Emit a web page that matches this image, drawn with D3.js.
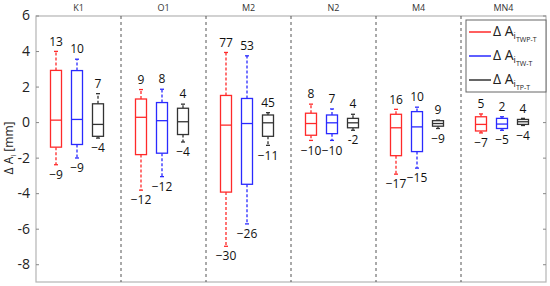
<!DOCTYPE html>
<html>
<head>
<meta charset="utf-8">
<script src="https://cdn.jsdelivr.net/npm/d3@7"></script>
<style>
  body { margin: 0; background: #fff; }
  text { font-family: "Open Sans", "DejaVu Sans", sans-serif; }
</style>
</head>
<body>
<div id="chart"></div>
<script>
// constituents and series
const groups = ["K1", "O1", "M2", "N2", "M4", "MN4"];
const series = ["TWP", "TW", "TP"];
const seriesSub = ["TWP-T", "TW-T", "TP-T"];
const seriesColors = ["#ff2a2a", "#2a2aff", "#333333"];

// box stats per series, one entry per group: [whiskerLow, q1, median, q3, whiskerHigh] in mm
const statsTWP = [
  [-2.40, -1.41, 0.11, 2.91, 3.98],
  [-3.83, -1.83, 0.27, 1.30, 1.83],
  [-6.99, -3.94, -0.17, 1.50, 3.92],
  [-1.03, -0.74, -0.08, 0.50, 1.01],
  [-2.93, -1.89, -0.32, 0.44, 0.72],
  [-0.61, -0.50, -0.13, 0.30, 0.46]
];
const statsTW = [
  [-2.02, -1.26, 0.15, 2.90, 3.54],
  [-3.07, -1.75, 0.08, 1.10, 1.85],
  [-5.73, -3.50, -0.08, 1.33, 3.73],
  [-1.03, -0.65, -0.04, 0.40, 0.74],
  [-2.59, -1.66, -0.27, 0.59, 0.84],
  [-0.46, -0.36, -0.11, 0.21, 0.30]
];
const statsTP = [
  [-0.90, -0.80, -0.13, 1.03, 1.60],
  [-1.12, -0.70, 0.02, 0.78, 1.01],
  [-1.31, -0.80, -0.04, 0.40, 0.53],
  [-0.46, -0.32, -0.04, 0.21, 0.44],
  [-0.36, -0.23, -0.08, 0.08, 0.11],
  [-0.19, -0.13, 0.02, 0.15, 0.21]
];

// labels shown above / below the whiskers
const topLabels = [
  ["13", "9", "77", "8", "16", "5"],
  ["10", "8", "53", "7", "10", "2"],
  ["7", "4", "45", "4", "9", "4"]
];
const bottomLabels = [
  ["\u22129", "\u221212", "\u221230", "\u221210", "\u221217", "\u22127"],
  ["\u22129", "\u221212", "\u221226", "\u221210", "\u221215", "\u22125"],
  ["\u22124", "\u22124", "\u221211", "-2", "\u22129", "\u22124"]
];

const yTicks = [6, 4, 2, 0, -2, -4, -6, -8];

const allStats = [statsTWP, statsTW, statsTP];

const W = 550, H = 286;
const margin = { top: 16, right: 4, bottom: 4, left: 36 };
const plotRight = W - margin.right;
const plotBottom = H - margin.bottom;

const svg = d3.select("#chart")
    .append("svg")
    .attr("width", W)
    .attr("height", H);

const xGroup = d3.scaleBand()
    .domain(groups)
    .range([margin.left, plotRight]);

const xInner = d3.scalePoint()
    .domain(series)
    .range([20, 62]);

const yScale = d3.scaleLinear()
    .domain([-9, 6])
    .range([plotBottom, margin.top - 0.5]);

// frame
svg.append("rect")
    .attr("x", margin.left)
    .attr("y", margin.top)
    .attr("width", plotRight - margin.left)
    .attr("height", plotBottom - margin.top)
    .attr("fill", "none")
    .attr("stroke", "#b4b4b4")
    .attr("stroke-width", 1.2);

// left axis, ticks inward
const yAxisL = svg.append("g")
    .attr("transform", `translate(${margin.left},0)`)
    .call(d3.axisLeft(yScale).tickValues(yTicks).tickSize(-3).tickPadding(6)
        .tickFormat(d => d < 0 ? "-" + Math.abs(d) : d));
yAxisL.select(".domain").remove();
yAxisL.selectAll(".tick line").attr("stroke", "#888");
yAxisL.selectAll(".tick text")
    .style("font-size", "14px")
    .attr("fill", "#222");

// right axis ticks
const yAxisR = svg.append("g")
    .attr("transform", `translate(${plotRight},0)`)
    .call(d3.axisRight(yScale).tickValues(yTicks).tickSize(-3).tickFormat(""));
yAxisR.select(".domain").remove();
yAxisR.selectAll(".tick line").attr("stroke", "#888");

// group separators
svg.selectAll(".sep")
    .data(groups.slice(1))
    .enter()
    .append("line")
    .attr("class", "sep")
    .attr("x1", d => xGroup(d))
    .attr("x2", d => xGroup(d))
    .attr("y1", margin.top)
    .attr("y2", plotBottom)
    .attr("stroke", "#555")
    .attr("stroke-width", 1)
    .attr("stroke-dasharray", "3,3");

// group names above the frame
svg.selectAll(".grp")
    .data(groups)
    .enter()
    .append("text")
    .attr("class", "grp")
    .attr("x", d => xGroup(d) + xGroup.bandwidth() / 2)
    .attr("y", 11)
    .attr("text-anchor", "middle")
    .style("font-size", "9px")
    .attr("fill", "#333")
    .text(d => d);

// boxes
const boxW = 11, capW = 4;
series.forEach((s, si) => {
    const color = seriesColors[si];
    const g = svg.append("g");
    allStats[si].forEach((st, gi) => {
        const cx = xGroup(groups[gi]) + xInner(s);
        const [lo, q1, med, q3, hi] = st;

        // whiskers
        g.append("line")
            .attr("x1", cx).attr("x2", cx)
            .attr("y1", yScale(q3)).attr("y2", yScale(hi))
            .attr("stroke", color).attr("stroke-width", 1.3)
            .attr("stroke-dasharray", "3,2");
        g.append("line")
            .attr("x1", cx).attr("x2", cx)
            .attr("y1", yScale(q1)).attr("y2", yScale(lo))
            .attr("stroke", color).attr("stroke-width", 1.3)
            .attr("stroke-dasharray", "3,2");
        // caps
        [lo, hi].forEach(v => {
            g.append("line")
                .attr("x1", cx - capW / 2).attr("x2", cx + capW / 2)
                .attr("y1", yScale(v)).attr("y2", yScale(v))
                .attr("stroke", color).attr("stroke-width", 1.3);
        });
        // box
        g.append("rect")
            .attr("x", cx - boxW / 2)
            .attr("y", yScale(q3))
            .attr("width", boxW)
            .attr("height", yScale(q1) - yScale(q3))
            .attr("fill", "#fff")
            .attr("stroke", color)
            .attr("stroke-width", 1.3);
        // median
        g.append("line")
            .attr("x1", cx - boxW / 2).attr("x2", cx + boxW / 2)
            .attr("y1", yScale(med)).attr("y2", yScale(med))
            .attr("stroke", color).attr("stroke-width", 1.3);

        // labels
        g.append("text")
            .attr("x", cx)
            .attr("y", yScale(hi) - 10)
            .attr("dy", "0.35em")
            .attr("text-anchor", "middle")
            .style("font-size", "12px")
            .attr("fill", "#111")
            .text(topLabels[si][gi]);
        g.append("text")
            .attr("x", cx)
            .attr("y", yScale(lo) + 10)
            .attr("dy", "0.35em")
            .attr("text-anchor", "middle")
            .style("font-size", "12px")
            .attr("fill", "#111")
            .text(bottomLabels[si][gi]);
    });
});

// y axis label
const yLab = svg.append("text")
    .attr("transform", "translate(13,148) rotate(-90)")
    .attr("text-anchor", "middle")
    .style("font-size", "12px")
    .attr("fill", "#222");
yLab.append("tspan").text("\u0394 A");
yLab.append("tspan").attr("dy", 3).style("font-size", "8px").text("i");
yLab.append("tspan").attr("dy", -3).text(" [mm]");

// legend
const legend = svg.append("g")
    .attr("transform", "translate(466,20)");
legend.append("rect")
    .attr("width", 80)
    .attr("height", 72)
    .attr("fill", "#fff")
    .attr("stroke", "#666")
    .attr("stroke-width", 1);

series.forEach((s, i) => {
    const ly = 12 + i * 24;
    legend.append("line")
        .attr("x1", 3).attr("x2", 25)
        .attr("y1", ly).attr("y2", ly)
        .attr("stroke", seriesColors[i])
        .attr("stroke-width", 1.5);
    const t = legend.append("text")
        .attr("x", 27)
        .attr("y", ly + 4)
        .style("font-size", "14px")
        .attr("fill", "#222");
    t.append("tspan").text("\u0394 A");
    t.append("tspan").attr("dy", 3).style("font-size", "9px").text("i");
    t.append("tspan").attr("dy", 3).style("font-size", "7px").text(seriesSub[i]);
});
</script>
</body>
</html>
